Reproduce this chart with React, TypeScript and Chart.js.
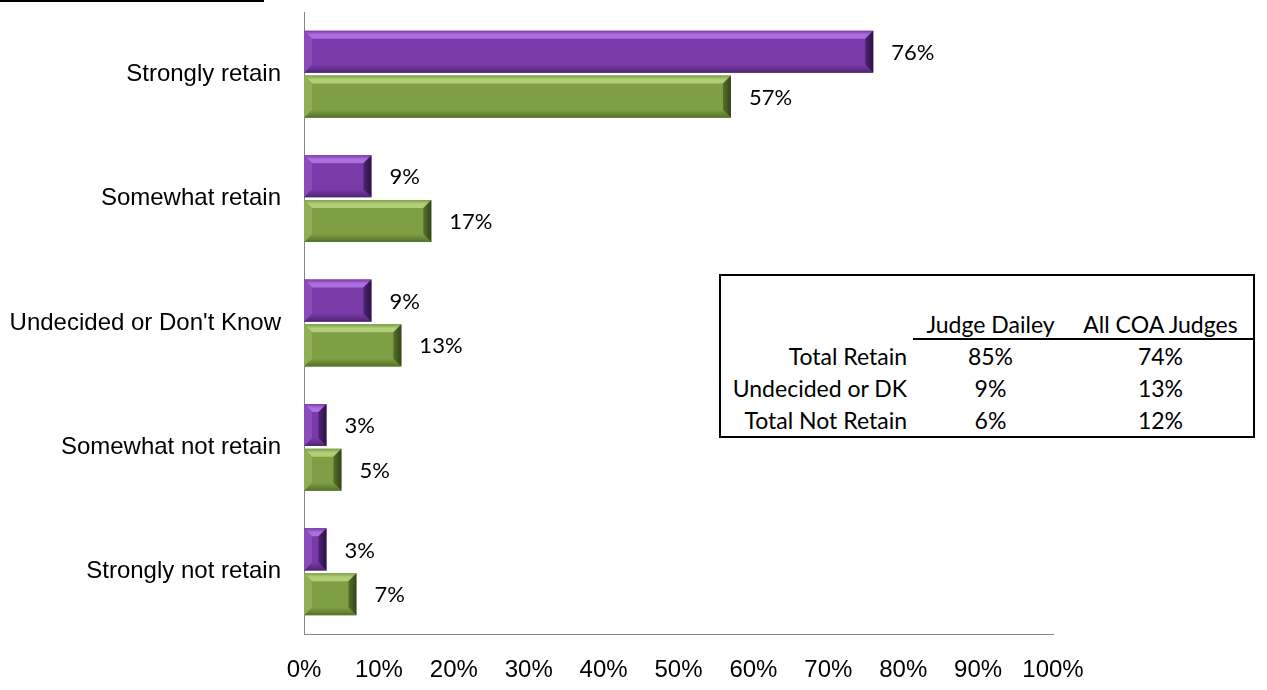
import React, { useEffect, useRef } from "react";
import { Chart, registerables } from "chart.js";

Chart.register(...registerables);

const categories = [
  "Strongly retain",
  "Somewhat retain",
  "Undecided or Don't Know",
  "Somewhat not retain",
  "Strongly not retain",
];
const seriesNames = ["Judge Dailey", "All COA Judges"];
const judgeDailey = [76, 9, 9, 3, 3];
const allCoaJudges = [57, 17, 13, 5, 7];
const xTicks = [0, 10, 20, 30, 40, 50, 60, 70, 80, 90, 100];

const tableRowLabels = ["Total Retain", "Undecided or DK", "Total Not Retain"];
const tableJudge = ["85%", "9%", "6%"];
const tableAll = ["74%", "13%", "12%"];

const FACE = ["#7a3aa8", "#7f9f45"];
const TOP = ["#ad6fe0", "#b0cf78"];
const BOTTOM = ["#4e2572", "#55702b"];
const LEFT = ["#8a4bbb", "#8fae55"];
const RIGHT = ["#2c1244", "#33441a"];

const AXIS = "#868686";

const bevelPlugin = {
  id: "bevel",
  afterDatasetsDraw(chart: any) {
    const ctx = chart.ctx;
    chart.data.datasets.forEach((_ds: any, di: number) => {
      const meta = chart.getDatasetMeta(di);
      meta.data.forEach((el: any) => {
        const p = el.getProps(["x", "y", "base", "height"], true);
        const L = Math.min(p.base, p.x);
        const R = Math.max(p.base, p.x);
        const T = p.y - p.height / 2;
        const B = p.y + p.height / 2;
        const b = Math.min(8, (R - L) / 2, (B - T) / 2);
        const poly = (pts: number[][], color: any) => {
          ctx.beginPath();
          ctx.moveTo(pts[0][0], pts[0][1]);
          for (let i = 1; i < pts.length; i++) ctx.lineTo(pts[i][0], pts[i][1]);
          ctx.closePath();
          ctx.fillStyle = color;
          ctx.fill();
        };
        ctx.save();
        const gTop = ctx.createLinearGradient(0, T, 0, T + b);
        gTop.addColorStop(0, FACE[di]);
        gTop.addColorStop(0.5, TOP[di]);
        gTop.addColorStop(1, TOP[di]);
        poly([[L, T], [R, T], [R - b, T + b], [L + b, T + b]], gTop);
        const gBot = ctx.createLinearGradient(0, B - b, 0, B);
        gBot.addColorStop(0, FACE[di]);
        gBot.addColorStop(1, BOTTOM[di]);
        poly([[L, B], [R, B], [R - b, B - b], [L + b, B - b]], gBot);
        poly([[L, T], [L + b, T + b], [L + b, B - b], [L, B]], LEFT[di]);
        const gR = ctx.createLinearGradient(R - b, 0, R, 0);
        gR.addColorStop(0, BOTTOM[di]);
        gR.addColorStop(1, RIGHT[di]);
        poly([[R, T], [R - b, T + b], [R - b, B - b], [R, B]], gR);
        ctx.restore();
      });
    });
  },
};

const valueLabelPlugin = {
  id: "valueLabels",
  afterDatasetsDraw(chart: any) {
    const ctx = chart.ctx;
    ctx.save();
    ctx.font = "22px Lato";
    ctx.fillStyle = "#000";
    ctx.textAlign = "left";
    ctx.textBaseline = "middle";
    chart.data.datasets.forEach((ds: any, di: number) => {
      const meta = chart.getDatasetMeta(di);
      meta.data.forEach((el: any, i: number) => {
        const p = el.getProps(["x", "y"], true);
        ctx.fillText(`${ds.data[i]}%`, p.x + 18, p.y + 1);
      });
    });
    ctx.restore();
  },
};

export default function App() {
  const ref = useRef<HTMLCanvasElement>(null);
  useEffect(() => {
    if (!ref.current) return;
    const chart = new Chart(ref.current, {
      type: "bar",
      data: {
        labels: categories,
        datasets: [
          { label: seriesNames[0], data: judgeDailey, backgroundColor: FACE[0], borderWidth: 0 },
          { label: seriesNames[1], data: allCoaJudges, backgroundColor: FACE[1], borderWidth: 0 },
        ],
      },
      options: {
        indexAxis: "y",
        animation: false,
        responsive: false,
        devicePixelRatio: 1,
        layout: { padding: { top: 12, right: 214, left: 0, bottom: 0 } },
        datasets: { bar: { barPercentage: 0.94, categoryPercentage: 0.72 } },
        plugins: { legend: { display: false }, tooltip: { enabled: false } },
        scales: {
          x: {
            min: 0,
            max: 100,
            afterBuildTicks(scale: any) {
              scale.ticks = xTicks.map((v) => ({ value: v }));
            },
            afterFit(scale: any) {
              scale.height = 56;
              scale.paddingLeft = 0;
              scale.paddingRight = 0;
            },
            ticks: {
              callback: (v: any) => `${v}%`,
              font: { family: "'Liberation Sans', Arial", size: 24 },
              color: "#000",
              padding: 22,
              maxRotation: 0,
              autoSkip: false,
            },
            grid: { display: false, drawTicks: false },
            border: { display: true, color: AXIS, width: 1 },
          },
          y: {
            afterFit(scale: any) {
              scale.width = 304;
              scale.paddingTop = 0;
              scale.paddingBottom = 0;
            },
            ticks: {
              font: { family: "'Liberation Sans', Arial", size: 24 },
              color: "#000",
              padding: 23,
            },
            grid: { display: false, drawTicks: false },
            border: { display: true, color: AXIS, width: 1 },
          },
        },
      },
      plugins: [bevelPlugin, valueLabelPlugin],
    });
    return () => chart.destroy();
  }, []);

  const cell: React.CSSProperties = {
    display: "flex",
    alignItems: "center",
    justifyContent: "center",
    height: 32,
  };

  return (
    <div style={{ position: "fixed", left: 0, top: 0, width: 1267, height: 690, background: "#fff", overflow: "hidden" }}>
      <canvas ref={ref} width={1267} height={690} style={{ width: 1267, height: 690, display: "block" }} />
      <div style={{ position: "absolute", left: 0, top: 0, width: 264, height: 2, background: "#000" }} />
      <div
        style={{
          position: "absolute",
          left: 719,
          top: 274,
          width: 536,
          height: 164,
          boxSizing: "border-box",
          border: "2px solid #000",
          background: "#fff",
          fontFamily: "Lato, sans-serif",
          fontSize: 23,
          color: "#000",
          display: "grid",
          gridTemplateColumns: "192px 155px 1fr",
          gridTemplateRows: "32px 32px 32px 32px 32px",
        }}
      >
        <div />
        <div />
        <div />
        <div />
        <div style={{ ...cell, borderBottom: "2px solid #000", boxSizing: "border-box", paddingTop: 2 }}>{seriesNames[0]}</div>
        <div style={{ ...cell, borderBottom: "2px solid #000", boxSizing: "border-box", paddingTop: 2 }}>{seriesNames[1]}</div>
        {tableRowLabels.map((lab, i) => (
          <React.Fragment key={lab}>
            <div style={{ ...cell, justifyContent: "flex-end", paddingRight: 6 }}>{lab}</div>
            <div style={cell}>{tableJudge[i]}</div>
            <div style={cell}>{tableAll[i]}</div>
          </React.Fragment>
        ))}
      </div>
    </div>
  );
}
